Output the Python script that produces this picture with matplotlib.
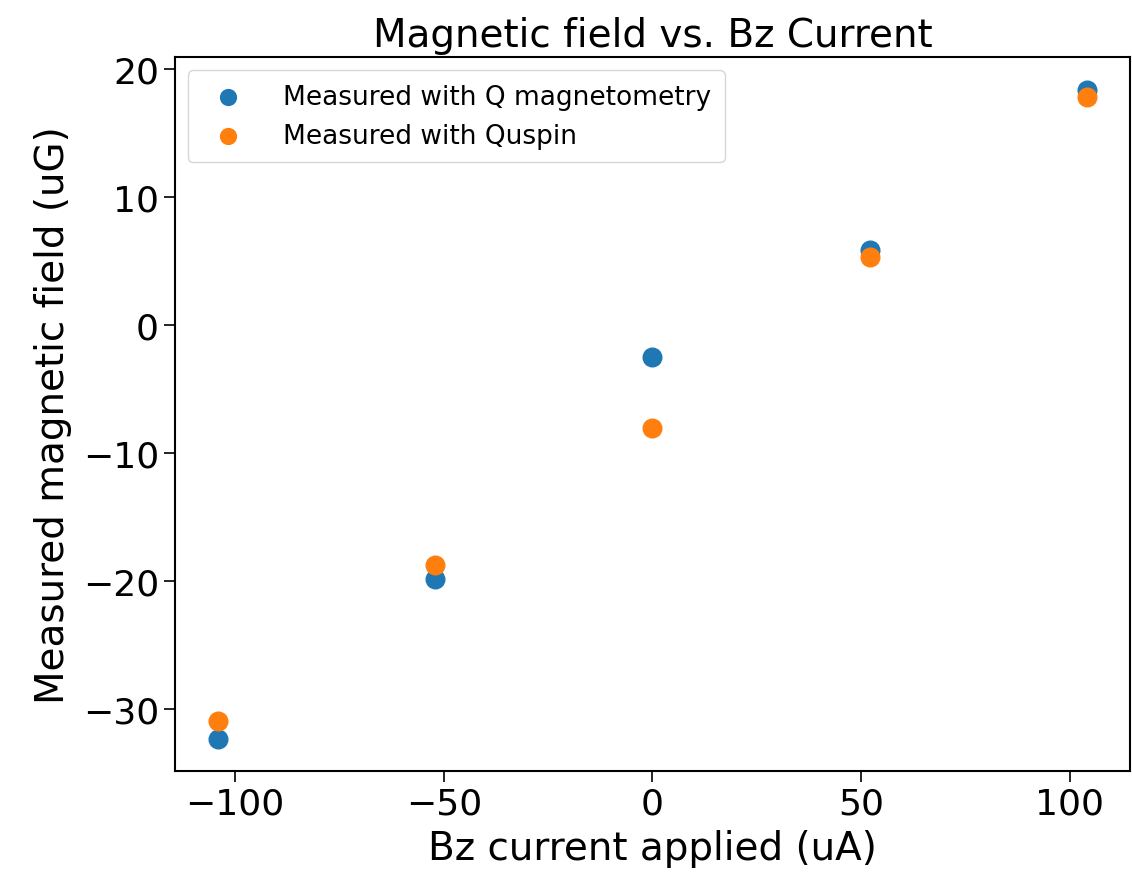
import matplotlib.pyplot as plt

# Bz current applied (uA)
current = [-104, -52, 0, 52, 104]
# measured field (uG)
field_q = [-32.3, -19.8, -2.5, 5.9, 18.4]
field_quspin = [-30.9, -18.7, -8.0, 5.3, 17.8]

fig = plt.figure(figsize=(11.32, 8.79), dpi=100)
ax = fig.add_axes([0.1546, 0.1217, 0.8436, 0.812])

ax.scatter(current, field_q, s=180, label='Measured with Q magnetometry')
ax.scatter(current, field_quspin, s=180, label='Measured with Quspin')

ax.set_title('Magnetic field vs. Bz Current', fontsize=28, pad=8)
ax.set_xlabel('Bz current applied (uA)', fontsize=28, labelpad=6)
ax.set_ylabel('Measured magnetic field (uG)', fontsize=28, labelpad=8)
ax.tick_params(labelsize=26, length=8, width=1.2)
for sp in ax.spines.values():
    sp.set_linewidth(1.5)
ax.legend(loc='upper left', fontsize=19, markerscale=0.85, handletextpad=1.1,
          borderpad=0.5)

fig.savefig('out.png', dpi=100)
